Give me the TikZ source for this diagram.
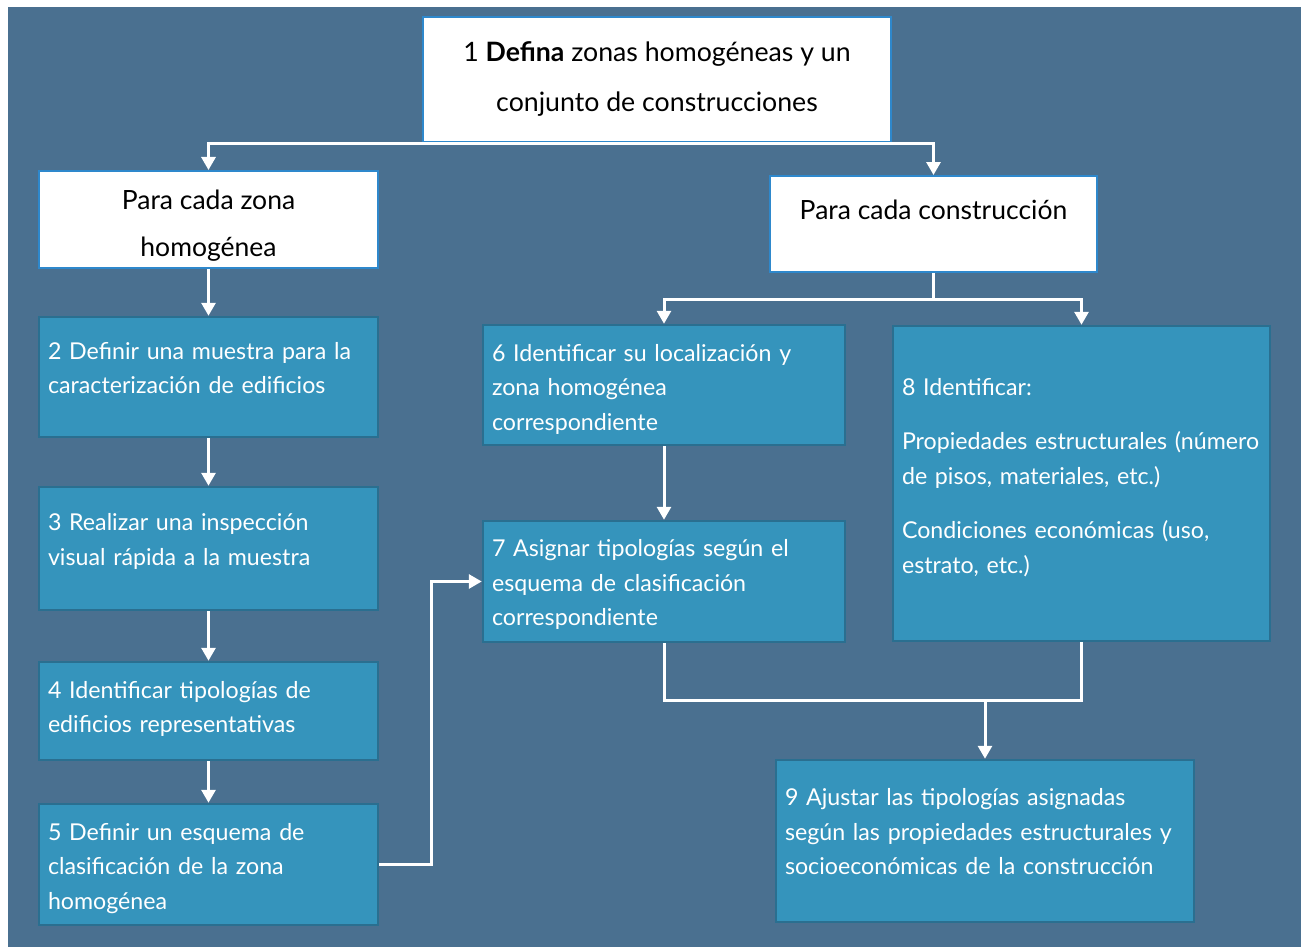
\documentclass[tikz,border=0pt]{standalone}
\usepackage{fontspec}
\setmainfont{Lato}
\usetikzlibrary{arrows.meta}
\definecolor{bgc}{HTML}{4A7090}
\definecolor{boxfill}{HTML}{3594BC}
\definecolor{boxedge}{HTML}{2A6F90}
\definecolor{wedge}{HTML}{2E88CC}
\tikzset{
  bbox/.style={draw=boxedge, line width=2.5pt, fill=boxfill},
  btext/.style={text=white, align=left, inner sep=0pt, font=\fontsize{23.2}{34.5}\selectfont},
  wbox/.style={draw=wedge, line width=2pt, fill=white},
  wtext/.style={text=black, align=center, inner sep=0pt, font=\fontsize{26.5}{47}\selectfont},
  conn/.style={draw=white, line width=3pt},
  arr/.style={conn, -{Triangle[width=14pt,length=13pt]}}
}
\begin{document}
\begin{tikzpicture}[x=1pt,y=-1pt]
\useasboundingbox (0,0) rectangle (1301,947);
\fill[white] (0,0) rectangle (1301,947);
\fill[bgc] (8,7) rectangle (1301,947);
% top
\node[wbox, minimum width=468pt, minimum height=125pt] (b1) at (657,79.5) {};
\node[wtext, font=\fontsize{26.7}{50}\selectfont] (b1t) at (657,79) {1 \textbf{Defina} zonas homogéneas y un\\conjunto de construcciones};
\node[wbox, minimum width=339pt, minimum height=97pt] (bA) at (208.5,219.5) {};
\node[wtext] (bAt) at (208.5,225.5) {Para cada zona\\homogénea};
\node[wbox, minimum width=327pt, minimum height=96pt] (bB) at (933.5,224) {};
\node[wtext] (bBt) at (933.5,210) {Para cada construcción};
% left column
\node[bbox, minimum width=339pt, minimum height=120pt] (b2) at (208.5,377) {};
\node[btext, text width=321pt] (b2t) at (208.5,368) {2 Definir una muestra para la\\caracterización de edificios};
\node[bbox, minimum width=339pt, minimum height=123pt] (b3) at (208.5,548.5) {};
\node[btext, text width=321pt] (b3t) at (208.5,541.5) {3 Realizar una inspección\\visual rápida a la muestra};
\node[bbox, minimum width=339pt, minimum height=98pt] (b4) at (208.5,711) {};
\node[btext, text width=321pt] (b4t) at (208.5,709) {4 Identificar tipologías de\\edificios representativas};
\node[bbox, minimum width=339pt, minimum height=121pt] (b5) at (208.5,864.5) {};
\node[btext, text width=321pt] (b5t) at (208.5,868.5) {5 Definir un esquema de\\clasificación de la zona\\homogénea};
% middle
\node[bbox, minimum width=362pt, minimum height=120pt] (b6) at (664,385) {};
\node[btext, text width=344pt] (b6t) at (664,389) {6 Identificar su localización y\\zona homogénea\\correspondiente};
\node[bbox, minimum width=362pt, minimum height=121pt] (b7) at (664,581.5) {};
\node[btext, text width=344pt] (b7t) at (664,584.5) {7 Asignar tipologías según el\\esquema de clasificación\\correspondiente};
% right
\node[bbox, minimum width=377pt, minimum height=315pt] (b8) at (1081.5,483.5) {};
\node[btext, text width=359pt] (b8t) at (1081.5,477.5) {8 Identificar:\\[20pt]Propiedades estructurales (número\\de pisos, materiales, etc.)\\[20pt]Condiciones económicas (uso,\\estrato, etc.)};
\node[bbox, minimum width=418pt, minimum height=162pt] (b9) at (985,841) {};
\node[btext, text width=400pt] (b9t) at (985,832) {9 Ajustar las tipologías asignadas\\según las propiedades estructurales y\\socioeconómicas de la construcción};
% connectors
\coordinate (j1) at (657,144);
\draw[conn] (b1.south) -- (j1);
\draw[arr] (j1) -| (bA.north);
\draw[arr] (j1) -| (bB.north);
\draw[arr] (bA.south) -- (b2.north);
\draw[arr] (b2.south) -- (b3.north);
\draw[arr] (b3.south) -- (b4.north);
\draw[arr] (b4.south) -- (b5.north);
\draw[arr] (b5.east) -- ++(52,0) |- (b7.west);
\coordinate (j2) at (933.5,299);
\draw[conn] (bB.south) -- (j2);
\draw[arr] (j2) -| (b6.north);
\draw[arr] (j2) -| (b8.north);
\draw[arr] (b6.south) -- (b7.north);
\coordinate (j3) at (985,700);
\draw[conn] (b7.south) |- (j3) -| (b8.south);
\draw[arr] (j3) -- (b9.north);
\end{tikzpicture}
\end{document}
